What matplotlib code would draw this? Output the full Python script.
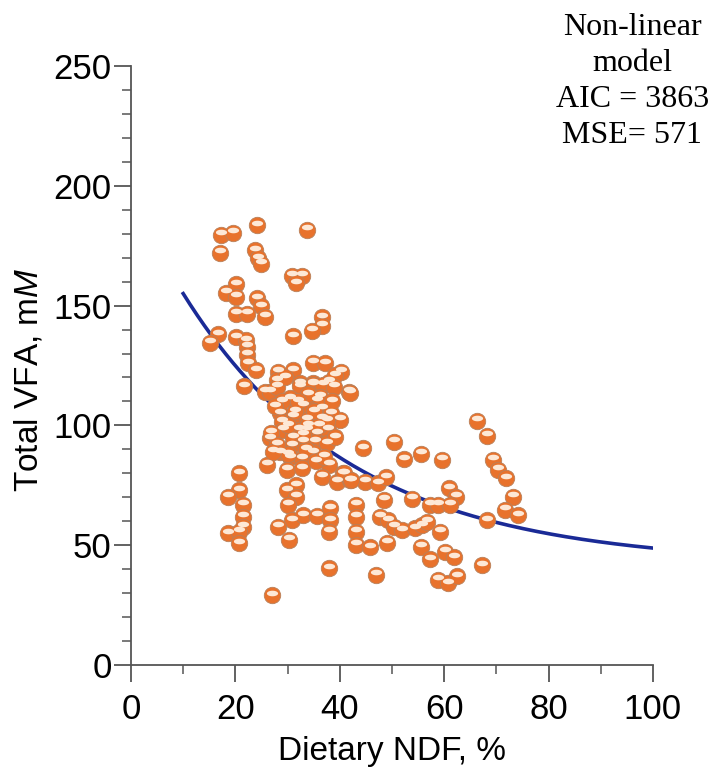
import numpy as np
import matplotlib
matplotlib.use('Agg')
import matplotlib.pyplot as plt
from matplotlib.path import Path
from matplotlib.transforms import offset_copy
from matplotlib.ticker import MultipleLocator

# 字體設定
plt.rcParams['font.family'] = ['Liberation Sans', 'DejaVu Sans']
plt.rcParams['mathtext.fontset'] = 'custom'
plt.rcParams['mathtext.rm'] = 'Liberation Sans'
plt.rcParams['mathtext.it'] = 'Liberation Sans:italic'

# 資料
ndf = [17.3, 19.6, 24.1, 33.7, 17.0, 23.8, 24.4, 25.0, 30.8, 32.7, 31.6, 18.2, 20.1, 20.2,
       24.2, 25.0, 25.7, 20.1, 22.2, 36.5, 36.5, 34.6, 31.1, 16.6, 15.1, 20.1, 22.0, 22.2,
       22.3, 22.4, 23.9, 21.6, 25.7, 28.2, 31.1, 34.8, 37.2, 40.2, 41.8, 27.9, 32.4, 34.9,
       38.0, 39.1, 26.6,
       27.9, 32.4, 34.9, 36.8, 38.8, 42.0, 30.5, 33.0, 28.5, 35.6, 36.5, 40.0, 28.9, 31.1,
       33.7, 36.5, 26.6, 29.2, 32.1, 33.7, 35.6, 37.8, 30.8, 33.0, 35.2, 37.5, 28.5, 34.9,
       30.5, 32.7, 44.4, 26.0, 29.8, 32.7, 38.0, 36.5, 39.4, 40.7, 42.0, 44.8, 20.6, 20.6,
       18.6, 21.5, 21.5, 21.5, 18.6, 20.6, 20.6, 29.8, 31.7, 31.7, 30.1, 30.8, 28.2, 30.3,
       33.0, 35.6, 38.1, 38.1, 38.0, 43.2, 43.2, 43.2, 43.2, 38.0, 27.1,
       50.4, 52.3, 55.5, 59.5, 66.2, 68.3, 69.4, 70.4, 71.8, 73.2, 71.6, 74.2, 68.3, 40.8,
       42.1, 47.4, 48.9, 53.8, 57.3, 58.9, 61.0, 62.3, 61.1, 48.5, 47.7, 49.3, 50.3, 51.9,
       54.4, 55.7, 56.8, 59.2, 45.8, 49.1, 55.5, 57.3, 60.2, 61.9, 67.2, 46.9, 58.9, 60.8,
       62.4,
       29.0, 31.0, 34.0, 36.2, 38.3, 30.0, 33.5, 35.5, 37.0, 39.0, 27.5, 29.5, 31.5, 34.0,
       36.0, 38.5, 26.8, 28.0, 30.0, 32.0, 35.0, 37.5, 27.2, 33.0]
vfa = [179.5, 180.5, 183.6, 181.6, 172.0, 173.2, 169.7, 167.4, 162.4, 162.4, 159.3, 155.4,
       159.0, 153.7, 153.0, 149.8, 145.4, 146.5, 146.5, 145.1, 141.5, 139.5, 137.3, 138.1,
       134.5, 136.8, 135.6, 132.9, 129.4, 125.9, 123.1, 116.4, 114.1, 122.4, 123.1, 126.2,
       125.9, 122.4, 114.1, 118.9, 117.6, 117.6, 118.3, 121.0, 114.1,
       116.2, 116.4, 116.9, 116.9, 116.2, 113.7, 111.3, 108.5, 105.0, 110.6, 107.1, 102.3,
       101.6, 103.6, 102.3, 103.0, 94.6, 98.1, 98.1, 98.1, 96.7, 98.1, 91.8, 93.2, 93.2,
       92.5, 88.9, 88.9, 86.8, 86.1, 90.4, 83.5, 81.4, 82.1, 83.5, 78.6, 76.5, 80.0, 77.2,
       76.5, 80.0, 73.0, 70.2, 66.8, 61.9, 57.7, 55.0, 55.6, 50.8, 73.0, 75.1, 70.2, 66.8,
       60.5, 57.7, 52.2, 62.6, 62.2, 65.4, 60.5, 55.7, 66.8, 61.9, 55.7, 50.1, 40.3, 29.2,
       93.2, 85.8, 88.1, 85.6, 102.0, 95.6, 85.6, 81.4, 77.9, 70.2, 64.7, 62.6, 60.5, 80.0,
       77.2, 75.9, 78.4, 69.3, 66.8, 66.8, 73.7, 70.2, 66.8, 68.9, 61.9, 60.5, 57.7, 56.3,
       57.0, 58.4, 59.8, 55.7, 49.1, 51.1, 49.4, 44.1, 47.3, 44.9, 41.7, 37.6, 35.5, 34.1,
       37.1,
       110.0, 95.0, 100.0, 112.0, 105.0, 88.0, 90.0, 85.0, 87.0, 95.0, 108.0, 120.0, 106.0,
       113.0, 100.0, 110.0, 97.0, 92.0, 100.0, 110.0, 106.0, 102.0, 89.0, 96.0]

# 非線性模型 y = c + a * exp(-k * x)
model_a = 154.2
model_k = 0.0309
model_c = 41.8
model_x = np.linspace(10, 100, 200)
model_y = model_c + model_a * np.exp(-model_k * model_x)

# 建立圖
fig = plt.figure(figsize=(7.12, 7.79), dpi=100)
ax = fig.add_axes([0.184, 0.1463, 0.733, 0.769])

ax.plot(model_x, model_y, color='#1a2a96', linewidth=2.6, zorder=2)

# 橘色球狀點
ax.scatter(ndf, vfa, s=140, color='#e8722c', edgecolors='#b8805a', linewidths=0.6,
           zorder=3, clip_on=False)
# 亮面 (往上位移)
t = np.linspace(0, 2 * np.pi, 60)
ellipse = Path(np.column_stack([np.cos(t), 0.5 * np.sin(t)]))
hl = offset_copy(ax.transData, fig=fig, x=0, y=2.5, units='dots')
ax.scatter(ndf, vfa, s=65, marker=ellipse, color='#fde8d6', linewidths=0,
           zorder=4, transform=hl, clip_on=False)

# 座標軸
ax.set_xlim(0, 100)
ax.set_ylim(0, 250)
ax.xaxis.set_major_locator(MultipleLocator(20))
ax.xaxis.set_minor_locator(MultipleLocator(10))
ax.yaxis.set_major_locator(MultipleLocator(50))
ax.yaxis.set_minor_locator(MultipleLocator(10))
ax.spines['right'].set_visible(False)
ax.spines['top'].set_visible(False)
for s in ['left', 'bottom']:
    ax.spines[s].set_color('#555555')
    ax.spines[s].set_linewidth(1.3)
ax.tick_params(which='major', direction='out', length=12, width=1.3, color='#555555',
               labelsize=25)
ax.tick_params(axis='x', which='major', pad=8)
ax.tick_params(axis='y', which='major', pad=2)
ax.tick_params(which='minor', direction='out', length=6.5, width=1.1, color='#555555')

ax.set_xlabel('Dietary NDF, %', fontsize=24)
ax.xaxis.set_label_coords(0.5, -0.118)
ax.set_ylabel('Total VFA, m$\\mathit{M}$', fontsize=24)
ax.yaxis.set_label_coords(-0.165, 0.476)

# 模型說明
fig.text(0.888, 0.983, 'Non-linear\nmodel\nAIC = 3863\nMSE= 571', ha='center', va='top',
         fontsize=23, family='Liberation Serif', linespacing=1.32)

fig.savefig('out.png', dpi=100)
